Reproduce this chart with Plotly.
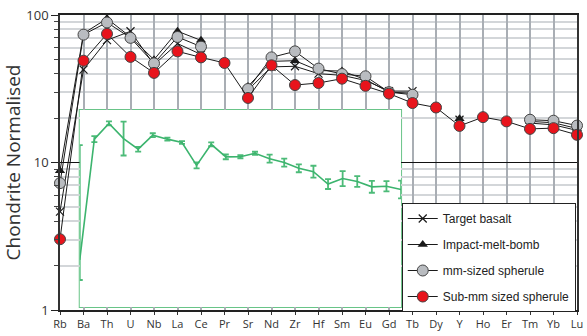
import plotly.graph_objects as go

elements = ["Rb", "Ba", "Th", "U", "Nb", "La", "Ce", "Pr", "Sr", "Nd", "Zr", "Hf",
            "Sm", "Eu", "Gd", "Tb", "Dy", "Y", "Ho", "Er", "Tm", "Yb", "Lu"]

target_basalt = [4.65, 42.6, 67.5, 77.6, 46.0, 64.0, 54.0, None, 31.0, 44.5, 44.9, 40.0,
                 39.0, 36.0, 30.5, 30.5, None, 19.5, None, None, 18.5, 18.0, 16.5]
impact_melt_bomb = [8.8, 75.0, 94.5, 71.0, 49.8, 77.6, 67.3, None, 32.8, 48.5, 49.0, 42.0,
                    41.7, 36.5, 30.0, 29.5, None, 19.8, None, None, 19.0, 18.6, 17.0]
mm_spherule = [7.25, 73.6, 89.0, 70.0, 47.0, 71.0, 61.0, None, 31.5, 51.6, 56.7, 43.3,
               39.8, 38.4, 30.0, 28.8, None, None, None, None, 19.5, 19.2, 17.8]
submm_spherule = [3.02, 49.0, 74.5, 52.0, 40.5, 56.7, 51.6, 47.3, 27.4, 45.6, 33.5, 34.6,
                  37.0, 33.1, 29.3, 25.3, 23.6, 17.7, 20.3, 19.0, 16.9, 17.1, 15.4]

# inset: relative pattern with error bars (arbitrary linear units)
inset_values = [2.39, 8.52, 9.32, 8.55, 8.01, 8.72, 8.52, 8.35, 7.19, 8.26, 7.62, 7.63,
                7.80, 7.53, 7.33, 7.04, 6.87, 6.24, 6.52, 6.37, 6.10, 6.13, 5.96]
inset_err_plus = [5.83, 0.15, 0.10, 0.86, 0.12, 0.10, 0.08, 0.07, 0.15, 0.10, 0.12, 0.08,
                  0.08, 0.20, 0.20, 0.20, 0.30, 0.25, 0.38, 0.27, 0.30, 0.26, 0.45]
inset_err_minus = [1.02, 0.15, 0.10, 0.86, 0.12, 0.10, 0.08, 0.07, 0.15, 0.10, 0.12, 0.08,
                   0.08, 0.20, 0.20, 0.20, 0.30, 0.25, 0.38, 0.27, 0.30, 0.26, 0.45]

fig = go.Figure()

line_style = dict(color="#1a1a1a", width=1)

fig.add_trace(go.Scatter(
    x=elements, y=target_basalt, name="Target basalt", mode="lines+markers",
    line=line_style, cliponaxis=False, legendgroup="a",
    marker=dict(symbol="x-thin", size=8, line=dict(color="#1a1a1a", width=1.2))))
fig.add_trace(go.Scatter(
    x=elements, y=impact_melt_bomb, name="Impact-melt-bomb", mode="lines+markers",
    line=line_style, cliponaxis=False, legendgroup="b",
    marker=dict(symbol="triangle-up", size=9, color="#1a1a1a")))
fig.add_trace(go.Scatter(
    x=elements, y=mm_spherule, name="mm-sized spherule", mode="lines+markers",
    line=line_style, cliponaxis=False, legendgroup="c",
    marker=dict(symbol="circle", size=11, color="#b9bcc0", line=dict(color="#444", width=1))))
fig.add_trace(go.Scatter(
    x=elements, y=submm_spherule, name="Sub-mm sized spherule", mode="lines+markers",
    line=line_style, cliponaxis=False, legendgroup="d",
    marker=dict(symbol="circle", size=11, color="#e8141c", line=dict(color="#444", width=1))))

fig.add_trace(go.Scatter(
    x=elements, y=inset_values, xaxis="x2", yaxis="y2", mode="lines",
    line=dict(color="#3cb46e", width=1.6), showlegend=False, cliponaxis=False,
    error_y=dict(type="data", symmetric=False, array=inset_err_plus,
                 arrayminus=inset_err_minus, color="#4cbb78", thickness=1.8, width=3)))

tick_font = dict(family="Open Sans, Liberation Sans, sans-serif", size=11, color="#333")

fig.update_layout(
    width=587, height=336,
    margin=dict(l=60, r=4, t=15, b=26),
    paper_bgcolor="white", plot_bgcolor="white",
    showlegend=True,
    legend=dict(x=0.661, y=0.3627, xanchor="left", yanchor="top",
                bgcolor="white", bordercolor="#222", borderwidth=1,
                font=dict(family="Liberation Sans, Arial, sans-serif", size=12, color="#222"),
                traceorder="grouped", tracegroupgap=7, itemwidth=30),
    xaxis=dict(categoryorder="array", categoryarray=elements, range=[0, 22],
               showgrid=True, gridcolor="#a9aeb4", gridwidth=1.5,
               ticks="outside", ticklen=3, tickcolor="#333", tickfont=tick_font,
               showline=True, linecolor="#222", linewidth=1.5, mirror=True, zeroline=False),
    yaxis=dict(type="log", range=[0, 2], dtick=1,
               showgrid=True, gridcolor="#111", gridwidth=1,
               ticks="outside", ticklen=7, tickcolor="#222",
               tickfont=dict(family="Open Sans, Liberation Sans, sans-serif", size=13, color="#333"),
               showline=True, linecolor="#333", linewidth=1.5, mirror=True,
               minor=dict(dtick="D1", ticks="outside", ticklen=4, tickcolor="#444",
                          showgrid=True, gridcolor="#d3d6d9", gridwidth=1.5),
               title=dict(text="Chondrite Normalised", standoff=3,
                          font=dict(family="Open Sans, Liberation Sans, sans-serif",
                                    size=19, color="#333"))),
    xaxis2=dict(domain=[0.0382, 0.6597], anchor="y2", categoryorder="array",
                categoryarray=elements, range=[0, 22], visible=False),
    yaxis2=dict(domain=[0.0102, 0.678], anchor="x2", range=[0, 10], visible=False),
    shapes=[dict(type="rect", xref="x2 domain", yref="y2 domain", x0=0, x1=1, y0=0, y1=1,
                 layer="below", fillcolor="white", line=dict(color="#68c487", width=2))],
)

fig.write_html("out.html", config={"displayModeBar": False},
               post_script="document.body.style.margin='0';document.body.style.overflow='hidden';")
